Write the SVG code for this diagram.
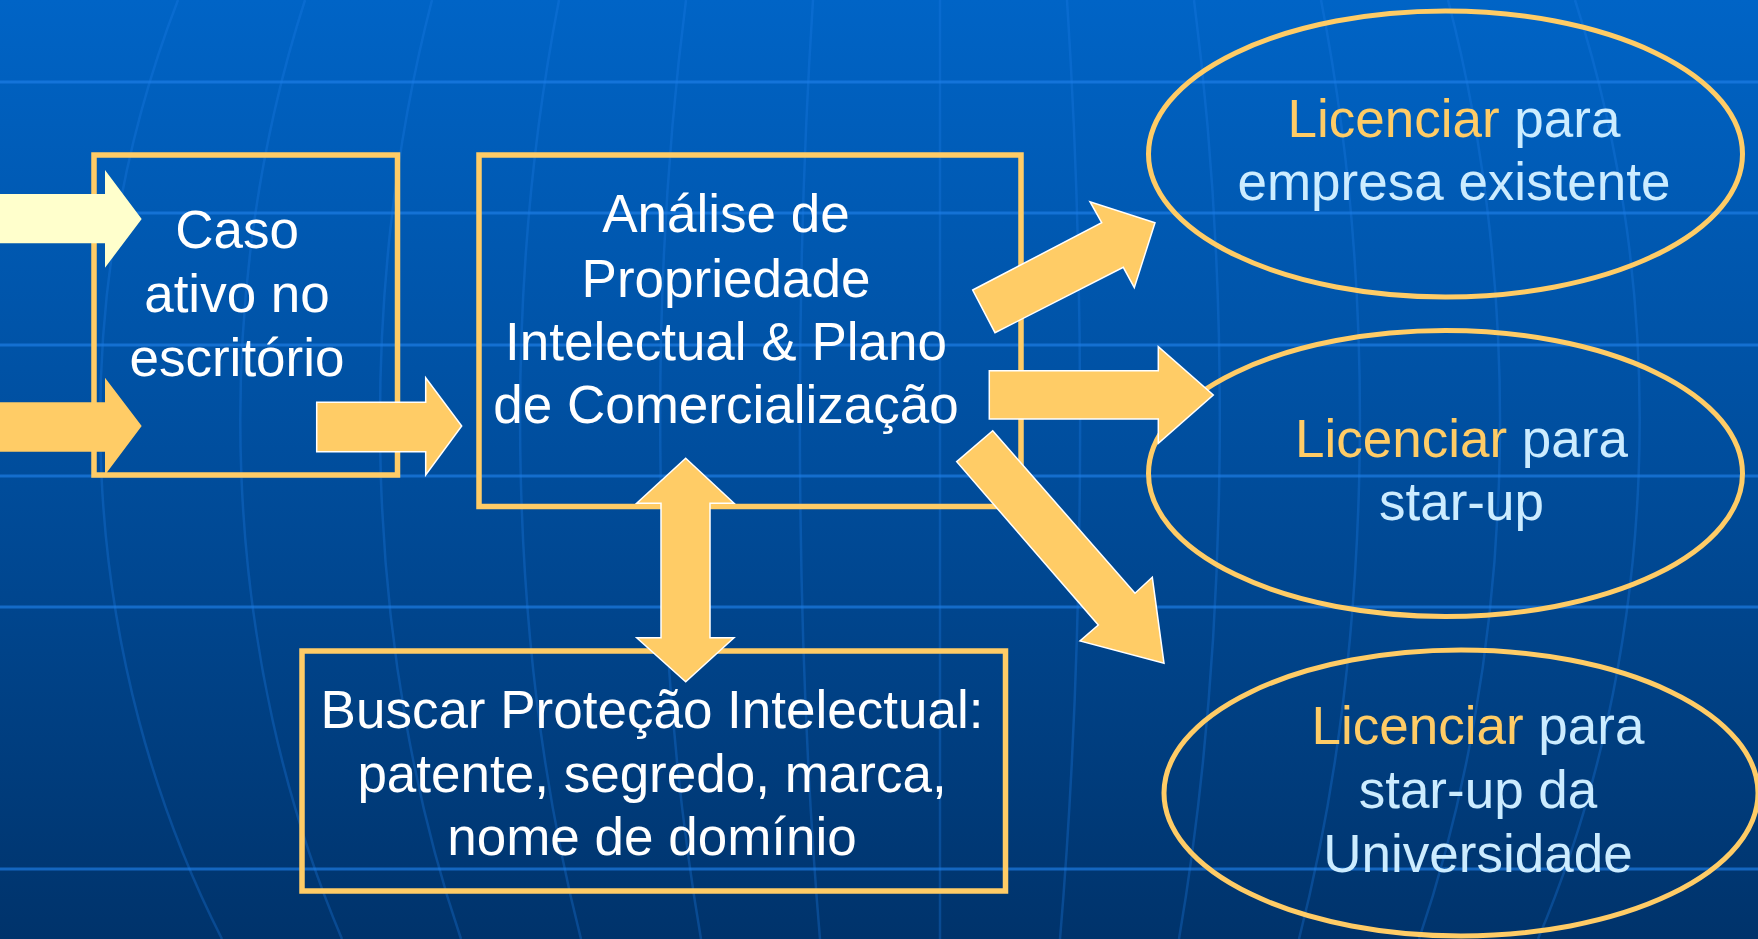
<svg xmlns="http://www.w3.org/2000/svg" width="1758" height="939" viewBox="0 0 1758 939">
<defs>
<linearGradient id="bg" x1="0" y1="0" x2="0" y2="1">
<stop offset="0" stop-color="#0064C6"/>
<stop offset="0.5" stop-color="#004D9C"/>
<stop offset="1" stop-color="#00336B"/>
</linearGradient>
<style>
.hl{stroke:#1E7FE8;stroke-width:3;opacity:0.65;fill:none}
.vl{stroke:#1E7FE8;stroke-width:2.5;opacity:0.3;fill:none}
.box{fill:none;stroke:#FFCC66;stroke-width:5.5}
.ell{fill:none;stroke:#FFCC66;stroke-width:5}
.t{font-family:"Liberation Sans",Arial,sans-serif;font-size:53px;text-anchor:middle;fill:#FFFFFF}
.lt{fill:#CCECFF}
.or{fill:#FFCC66}
.arr{fill:#FFCC66;stroke:#FFFFFF;stroke-width:1.5;stroke-linejoin:miter}
.arrp{fill:#FFCC66}
.arry{fill:#FFFFCC}
</style>
</defs>
<rect x="0" y="0" width="1758" height="939" fill="url(#bg)"/>
<g id="grid">
<line class="hl" x1="0" y1="82" x2="1758" y2="82"/>
<line class="hl" x1="0" y1="213" x2="1758" y2="213"/>
<line class="hl" x1="0" y1="345" x2="1758" y2="345"/>
<line class="hl" x1="0" y1="476" x2="1758" y2="476"/>
<line class="hl" x1="0" y1="607" x2="1758" y2="607"/>
<line class="hl" x1="0" y1="869" x2="1758" y2="869"/>
<line class="vl" x1="940" y1="0" x2="940" y2="939"/>
<path class="vl" d="M1067,0 A140 1000 0 0 1 1060,939"/>
<path class="vl" d="M1194,0 A280 1000 0 0 1 1179,939"/>
<path class="vl" d="M1321,0 A420 1000 0 0 1 1299,939"/>
<path class="vl" d="M1448,0 A560 1000 0 0 1 1419,939"/>
<path class="vl" d="M1575,0 A700 1000 0 0 1 1538,939"/>
<path class="vl" d="M813,0 A140 1000 0 0 0 820,939"/>
<path class="vl" d="M686,0 A280 1000 0 0 0 701,939"/>
<path class="vl" d="M559,0 A420 1000 0 0 0 581,939"/>
<path class="vl" d="M432,0 A560 1000 0 0 0 461,939"/>
<path class="vl" d="M305,0 A700 1000 0 0 0 342,939"/>
<path class="vl" d="M178,0 A840 1000 0 0 0 222,939"/>
</g>
<g id="caso">
<rect class="box" x="94" y="155" width="303.5" height="320"/>
<text class="t"><tspan x="237" y="248">Caso</tspan><tspan x="237" y="312">ativo no</tspan><tspan x="237" y="376">escritório</tspan></text>
</g>
<g id="analise">
<rect class="box" x="479" y="155" width="542" height="351.5"/>
<text class="t"><tspan x="726" y="231.7">Análise de</tspan><tspan x="726" y="296.7">Propriedade</tspan><tspan x="726" y="360">Intelectual &amp; Plano</tspan><tspan x="726" y="423.3">de Comercialização</tspan></text>
</g>
<g id="buscar">
<rect class="box" x="302" y="651" width="703.5" height="240"/>
<text class="t"><tspan x="652" y="728.3">Buscar Proteção Intelectual:</tspan><tspan x="652" y="791.7">patente, segredo, marca,</tspan><tspan x="652" y="855">nome de domínio</tspan></text>
</g>
<g id="lic1">
<ellipse class="ell" cx="1445.5" cy="154" rx="297" ry="143"/>
<text class="t lt"><tspan x="1454" y="136.7"><tspan class="or">Licenciar</tspan> para</tspan><tspan x="1454" y="200">empresa existente</tspan></text>
</g>
<g id="lic2">
<ellipse class="ell" cx="1445.5" cy="473.5" rx="297" ry="143"/>
<text class="t lt"><tspan x="1461.5" y="456.7"><tspan class="or">Licenciar</tspan> para</tspan><tspan x="1461.5" y="520">star-up</tspan></text>
</g>
<g id="lic3">
<ellipse class="ell" cx="1461" cy="793" rx="297" ry="143"/>
<text class="t lt"><tspan x="1478" y="744"><tspan class="or">Licenciar</tspan> para</tspan><tspan x="1478" y="808">star-up da</tspan><tspan x="1478" y="872">Universidade</tspan></text>
</g>
<g id="connectors">
<polygon class="arry" points="0,194 105,194 105,170 141.7,219 105,267.7 105,243.3 0,243.3"/>
<polygon class="arrp" points="0,402.3 105,402.3 105,377.7 141.7,426 105,475 105,451.7 0,451.7"/>
<polygon class="arr" points="316.7,402.3 425.7,402.3 425.7,377.7 461.7,426 425.7,475 425.7,451.7 316.7,451.7"/>
<polygon class="arr" points="685.7,458.3 734,503.3 710,503.3 710,637.7 734,637.7 685.7,681.7 636.7,637.7 661,637.7 661,503.3 636.7,503.3"/>
<polygon class="arr" points="972.7,290 1101.7,222.7 1090,201.7 1155,222.7 1134.3,287.7 1123.3,267.3 995,332.7"/>
<polygon class="arr" points="989.3,370.7 1158.3,370.7 1158.3,346.7 1213.3,395 1158.3,443.3 1158.3,419 989.3,419"/>
<polygon class="arr" points="992.7,430.7 1135,593.3 1152.3,577.3 1164,663.3 1080,641 1098.3,625 956.7,461.7"/>
</g>
</svg>
